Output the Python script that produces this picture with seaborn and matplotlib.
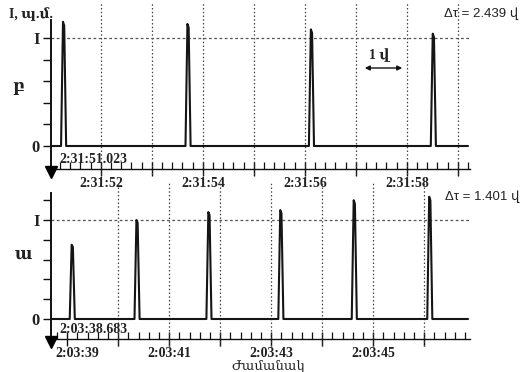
import numpy as np
import pandas as pd
import matplotlib
matplotlib.use("Agg")
import matplotlib.pyplot as plt
from matplotlib.ticker import FixedLocator, MultipleLocator, FuncFormatter
from matplotlib.transforms import ScaledTranslation
import seaborn as sns

# ---------------- data ----------------
# top panel (բ): seconds after 2:31:00
top_start = 51.023
top_end = 59.20
top_peak_t = [51.27, 53.71, 56.13, 58.52]
top_peak_h = [1.15, 1.13, 1.08, 1.04]
top_grid_s = [52, 53, 54, 55, 56, 57, 58, 59]
top_label_s = [52, 54, 56, 58]
top_prefix = "2:31:"
top_start_label = "2:31:51.023"
top_dtau = "Δτ = 2.439 վ"
top_name = "բ"

# bottom panel (ա): seconds after 2:03:00
bot_start = 38.683
bot_end = 46.86
bot_peak_t = [39.10, 40.37, 41.78, 43.19, 44.63, 46.11]
bot_peak_h = [0.75, 1.00, 1.08, 1.10, 1.20, 1.235]
bot_grid_s = [40, 41, 42, 43, 44, 45, 46]
bot_label_s = [39, 41, 43, 45]
bot_prefix = "2:03:"
bot_start_label = "2:03:38.683"
bot_dtau = "Δτ = 1.401 վ"
bot_name = "ա"

y_tick_vals = [0, 0.2, 0.4, 0.6, 0.8, 1.0, 1.2]
y_tick_text = {0: "0", 1.0: "I"}
y_axis_title = "I, պ.մ."
x_axis_title = "Ժամանակ"
scale_text = "1 վ"

# ---------------- styling ----------------
W, H = 524, 372
DPI = 100
sns.set_theme(style="white")
plt.rcParams["font.family"] = ["Liberation Serif", "DejaVu Serif"]
SERIF = ["Liberation Serif", "DejaVu Serif"]
SANS = ["Liberation Sans", "DejaVu Sans"]

fig = plt.figure(figsize=(W / DPI, H / DPI), dpi=DPI)
fig.patch.set_facecolor("white")


def px(x, y):
    return x / W, 1 - y / H


def build_series(t0, t1, peaks_t, peaks_h, hw=0.05):
    ts = [t0]
    ys = [0.0]
    for t, h in zip(peaks_t, peaks_h):
        ts += [t - hw, t - 0.012, t + 0.012, t + hw]
        ys += [0.0, h, h * 0.97, 0.0]
    ts.append(t1)
    ys.append(0.0)
    return pd.DataFrame({"t": ts, "v": ys})


def panel(left, right, top, bottom, zero_px, one_px, t0, t1, peaks_t, peaks_h,
          grid_s, label_s, prefix, start_label, grid_top, grid_bot, first_shift=0):
    ax = fig.add_axes([left / W, 1 - bottom / H, (right - left) / W, (bottom - top) / H])
    unit = zero_px - one_px
    ylo = -(bottom - zero_px) / unit
    yhi = (zero_px - top) / unit
    xmax = t0 + (right - left) / 51.0
    df = build_series(t0, t1, peaks_t, peaks_h)
    sns.lineplot(data=df, x="t", y="v", ax=ax, color="#151515", lw=1.5,
                 sort=False, estimator=None)
    ax.set_xlim(t0, xmax)
    ax.set_ylim(ylo, yhi)
    ax.set_xlabel("")
    ax.set_ylabel("")
    ax.set_facecolor("white")
    for s in ["top", "right"]:
        ax.spines[s].set_visible(False)
    ax.spines["left"].set_color("#111")
    ax.spines["left"].set_linewidth(1.4)
    ax.spines["bottom"].set_color("#111")
    ax.spines["bottom"].set_linewidth(1.0)

    # gridlines
    h_ax = bottom - top
    gmin = -(grid_bot - bottom) / h_ax
    gmax = (bottom - grid_top) / h_ax
    for g in grid_s:
        ax.axvline(g, ymin=gmin, ymax=gmax, color="#444", lw=0.9,
                   ls=(0, (1.2, 1.8)), clip_on=False, zorder=1)
    ax.axhline(1.0, color="#555", lw=0.9, ls=(0, (2.2, 2.0)), zorder=1)

    # x ticks
    major = sorted(set(range(int(np.ceil(t0)), int(np.floor(xmax)) + 1)))
    ax.xaxis.set_major_locator(FixedLocator(major))
    ax.xaxis.set_minor_locator(MultipleLocator(0.2))
    ax.xaxis.set_major_formatter(FuncFormatter(
        lambda v, p: f"{prefix}{int(round(v)):02d}" if int(round(v)) in label_s else ""))
    ax.tick_params(axis="x", which="major", direction="inout", length=10, width=1.0,
                   color="#111", pad=0.5, labelsize=10, bottom=True)
    ax.tick_params(axis="x", which="minor", direction="in", length=5, width=0.9,
                   color="#111", bottom=True)
    for lab in ax.get_xticklabels():
        lab.set_fontweight("bold")
        lab.set_family(SERIF)
        lab.set_color("#222")

    # y ticks
    yt = [v for v in y_tick_vals if v <= yhi]
    ax.yaxis.set_major_locator(FixedLocator(yt))
    ax.yaxis.set_major_formatter(FuncFormatter(
        lambda v, p: y_tick_text.get(round(v, 1), "")))
    ax.tick_params(axis="y", which="major", direction="out", length=6, width=1.0,
                   color="#111", pad=2, labelsize=12, left=True)
    for lab in ax.get_yticklabels():
        lab.set_fontweight("bold")
        lab.set_family(SERIF)
        lab.set_color("#222")

    if first_shift:
        labs = ax.get_xticklabels()
        for lab in labs:
            if lab.get_text():
                lab.set_transform(lab.get_transform() +
                                  ScaledTranslation(first_shift / DPI, 0, fig.dpi_scale_trans))
                break

    # start marker and start time text
    ax.plot([t0], [ylo], marker="v", color="black", ms=8, clip_on=False,
            transform=ax.transData + ScaledTranslation(0, -2.5 / DPI, fig.dpi_scale_trans),
            zorder=5)
    ax.text(t0, ylo, start_label, ha="left", va="bottom", fontsize=10,
            fontweight="bold", family=SERIF, color="#222",
            transform=ax.transData + ScaledTranslation(8 / DPI, 3 / DPI, fig.dpi_scale_trans))
    return ax


ax1 = panel(51, 470, 20, 169, 146, 38, top_start, top_end, top_peak_t, top_peak_h,
            top_grid_s, top_label_s, top_prefix, top_start_label, 3, 174)
ax2 = panel(51, 470, 193, 339, 319, 220, bot_start, bot_end, bot_peak_t, bot_peak_h,
            bot_grid_s, bot_label_s, bot_prefix, bot_start_label, 183, 346, first_shift=10)

# texts
fig.text(*px(31, 14), y_axis_title, ha="center", va="center", fontsize=10,
         fontweight="bold", family=SERIF, color="#222")
fig.text(*px(18, 87), top_name, ha="center", va="center", fontsize=12,
         fontweight="bold", family=SERIF, color="#222")
fig.text(*px(23, 255), bot_name, ha="center", va="center", fontsize=12,
         fontweight="bold", family=SERIF, color="#222")
fig.text(*px(481, 14), top_dtau, ha="center", va="center", fontsize=9.5,
         family=SANS, color="#222")
fig.text(*px(482, 197), bot_dtau, ha="center", va="center", fontsize=9.5,
         family=SANS, color="#222")
fig.text(*px(268, 366), x_axis_title, ha="center", va="center", fontsize=9.5,
         family=SERIF, color="#222")
fig.text(*px(379, 55), scale_text, ha="center", va="center", fontsize=10,
         fontweight="bold", family=SERIF, color="#222")
fig.add_artist(matplotlib.patches.FancyArrowPatch(
    px(362, 68), px(405, 68), transform=fig.transFigure, arrowstyle="<|-|>",
    mutation_scale=7, lw=1.0, color="#111"))

fig.savefig("out.png", dpi=DPI, facecolor="white")
